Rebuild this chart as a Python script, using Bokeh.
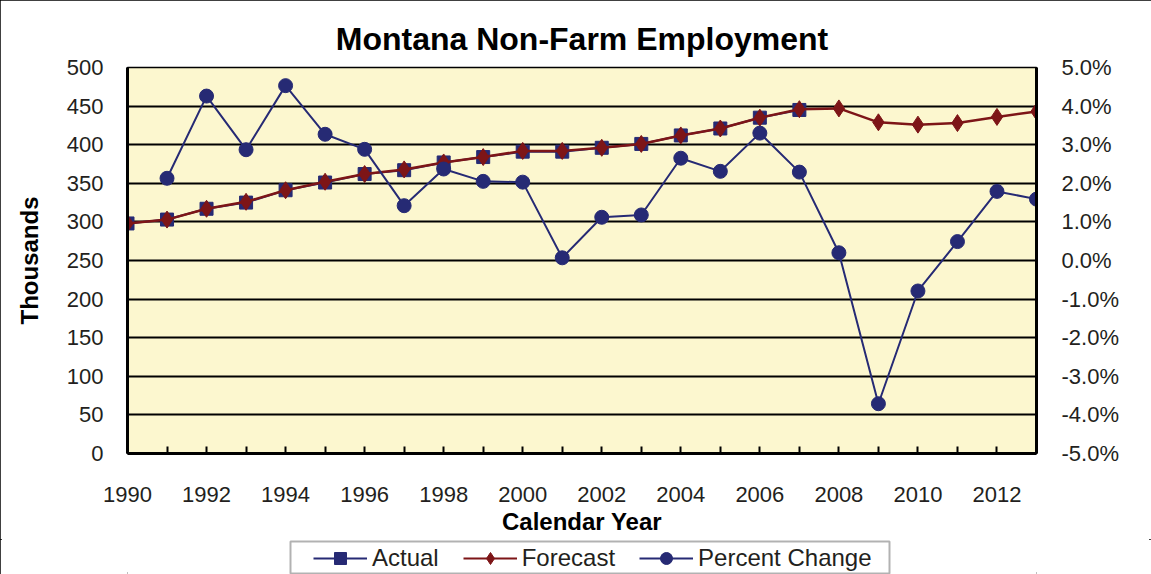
from bokeh.plotting import figure
from bokeh.layouts import column
from bokeh.models import (Range1d, LinearAxis, FixedTicker, PrintfTickFormatter,
                          Legend, LegendItem, BoxAnnotation)
from bokeh.embed import file_html
from bokeh.resources import INLINE

# ---------------- data ----------------
years_actual = list(range(1990, 2008))
actual = [298, 303, 317, 325, 341, 351, 362, 367, 377, 384, 391, 391, 396, 401,
          412, 421, 435, 445]

years_forecast = list(range(1990, 2014))
forecast = [298, 303, 317, 326, 341, 352, 362, 368, 377, 384, 392, 392, 396, 401,
            412, 421, 435, 446, 447, 429, 426, 428, 436, 443]

years_pct = list(range(1991, 2014))
pct_change = [2.13, 4.26, 2.87, 4.53, 3.27, 2.88, 1.42, 2.37, 2.05, 2.03, 0.07,
              1.12, 1.18, 2.65, 2.31, 3.30, 2.29, 0.20, -3.71, -0.79, 0.49, 1.79, 1.59]

series_names = ["Actual", "Forecast", "Percent Change"]

left_ticks = list(range(0, 501, 50))
right_ticks = list(range(-5, 6))
x_ticks = list(range(1990, 2014))
x_labels = {y: (str(y) if y % 2 == 0 else "") for y in x_ticks}

NAVY = "#262A74"
RED = "#7D1517"
BG = "#FCF7CF"
FONT = "Liberation Sans"

TOP, FRAME_H, BOTTOM = 67, 386, 86
LEFT, FRAME_W, RIGHT = 127, 909, 115

p = figure(frame_width=FRAME_W, frame_height=FRAME_H, output_backend="svg",
           toolbar_location=None,
           x_range=Range1d(1990, 2013), y_range=Range1d(0, 500),
           min_border_left=LEFT, min_border_right=RIGHT, min_border_top=TOP,
           min_border_bottom=BOTTOM, background_fill_color=BG,
           border_fill_color="white")

p.title.text = "Montana Non-Farm Employment"
p.title.align = "center"
p.title.text_font = FONT
p.title.text_font_size = "32px"
p.title.text_font_style = "bold"
p.title.text_color = "black"
p.title.standoff = 21

p.outline_line_color = "black"
p.outline_line_width = 1.5

p.extra_y_ranges = {"pct": Range1d(-5, 5)}

# x axis
xa = p.xaxis[0]
xa.ticker = FixedTicker(ticks=x_ticks)
xa.major_label_overrides = x_labels
xa.axis_label = "Calendar Year"
xa.axis_label_text_font = FONT
xa.axis_label_text_font_size = "24px"
xa.axis_label_text_font_style = "bold"
xa.axis_label_text_color = "black"
xa.axis_label_standoff = 3
xa.major_label_text_font = FONT
xa.major_label_text_font_size = "22px"
xa.major_label_text_color = "#231F20"
xa.major_label_standoff = 33
xa.axis_line_width = 3
xa.axis_line_color = "black"
xa.major_tick_in = 7
xa.major_tick_out = 0
xa.major_tick_line_width = 2
xa.major_tick_line_color = "black"
xa.minor_tick_line_color = None

# left axis
ya = p.yaxis[0]
ya.ticker = FixedTicker(ticks=left_ticks)
ya.axis_label = "Thousands"
ya.axis_label_text_font = FONT
ya.axis_label_text_font_size = "24px"
ya.axis_label_text_font_style = "bold"
ya.axis_label_text_color = "black"
ya.axis_label_standoff = 21
ya.major_label_text_font = FONT
ya.major_label_text_font_size = "22px"
ya.major_label_text_color = "#231F20"
ya.major_label_standoff = 24
ya.axis_line_width = 3
ya.axis_line_color = "black"
ya.major_tick_in = 0
ya.major_tick_out = 0
ya.minor_tick_line_color = None

# right axis
ra = LinearAxis(y_range_name="pct", ticker=FixedTicker(ticks=right_ticks),
                formatter=PrintfTickFormatter(format="%.1f%%"))
ra.major_label_text_font = FONT
ra.major_label_text_font_size = "22px"
ra.major_label_text_color = "#231F20"
ra.major_label_standoff = 25
ra.axis_line_width = 3
ra.axis_line_color = "black"
ra.major_tick_in = 0
ra.major_tick_out = 0
ra.minor_tick_line_color = None
p.add_layout(ra, "right")

# grid
p.xgrid.grid_line_color = None
p.ygrid.ticker = FixedTicker(ticks=left_ticks)
p.ygrid.grid_line_color = "black"
p.ygrid.grid_line_width = 2

# series
p.line(years_actual, actual, line_color=NAVY, line_width=2)
p.scatter(years_actual, actual, marker="square", size=13,
          fill_color=NAVY, line_color=NAVY)
p.line(years_forecast, forecast, line_color=RED, line_width=2.5)
p.scatter(years_forecast, forecast, marker="diamond", size=17,
          fill_color=RED, line_color=RED)
p.line(years_pct, pct_change, line_color=NAVY, line_width=2, y_range_name="pct")
p.scatter(years_pct, pct_change, marker="circle", size=14,
          fill_color=NAVY, line_color=NAVY, y_range_name="pct")

# ---------------- legend strip (pixel-unit ranges) ----------------
LF_H = 574 - TOP - FRAME_H - BOTTOM
lf = figure(frame_width=FRAME_W, frame_height=LF_H, output_backend="svg",
            toolbar_location=None,
            x_range=Range1d(LEFT, LEFT + FRAME_W), y_range=Range1d(0, LF_H),
            x_axis_location=None, y_axis_location=None,
            min_border_left=LEFT, min_border_right=RIGHT,
            min_border_top=0, min_border_bottom=0,
            background_fill_color="white", border_fill_color="white")
lf.outline_line_color = None
lf.grid.grid_line_color = None

# legend frame box
lf.add_layout(BoxAnnotation(left=290, right=889, bottom=1, top=LF_H - 2,
                            fill_color=None, line_color="black", line_width=2))

styles = [("square", NAVY, 13), ("diamond", RED, 17), ("circle", NAVY, 14)]
items = []
for name, (mk, col, sz) in zip(series_names, styles):
    r1 = lf.line([0, 1], [-100, -100], line_color=col, line_width=2)
    r2 = lf.scatter([0], [-100], marker=mk, size=sz, fill_color=col,
                    line_color=col)
    items.append(LegendItem(label=name, renderers=[r1, r2]))

legend = Legend(items=items, orientation="horizontal", location=(186, 1))
legend.label_text_font = FONT
legend.label_text_font_size = "24px"
legend.label_text_color = "#231F20"
legend.glyph_width = 54
legend.glyph_height = 30
legend.label_height = 22
legend.label_standoff = 5
legend.spacing = 24
legend.padding = 1
legend.margin = 0
legend.border_line_color = None
legend.background_fill_alpha = 0
lf.add_layout(legend, "center")

layout = column(p, lf, spacing=0)
layout.styles = {"outline": "2px solid black", "outline-offset": "-2px"}

open("out.html", "w").write(file_html(layout, INLINE))
